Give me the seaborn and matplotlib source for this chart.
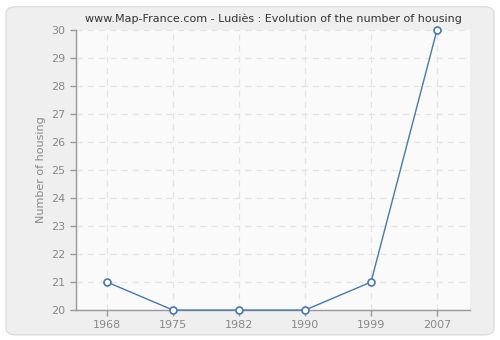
import matplotlib
matplotlib.use("Agg")
import matplotlib.pyplot as plt
import seaborn as sns
import pandas as pd
from matplotlib.patches import FancyBboxPatch, Rectangle

years = ["1968", "1975", "1982", "1990", "1999", "2007"]
housing = [21, 20, 20, 20, 21, 30]
yticks = list(range(20, 31))

df = pd.DataFrame({"year": years, "housing": housing})

sns.set_style("white")
plt.rcParams['font.family'] = ['DejaVu Sans']
plt.rcParams['hatch.color'] = '#e8e8e8'
plt.rcParams['hatch.linewidth'] = 0.5

fig = plt.figure(figsize=(5, 3.4), dpi=100)
fig.patch.set_facecolor('white')
bg = FancyBboxPatch((0.012, 0.015), 0.976, 0.965, boxstyle="round,pad=0,rounding_size=0.02",
                    transform=fig.transFigure, facecolor='#efefef', edgecolor='#dddddd',
                    linewidth=1, zorder=-10)
fig.patches.append(bg)

ax = fig.add_axes([0.152, 0.088, 0.788, 0.824])
ax.set_zorder(1)
ax.set_facecolor('#fafafa')
ax.add_patch(Rectangle((0, 0), 1, 1, transform=ax.transAxes, facecolor='#fafafa',
                       edgecolor='none', hatch='//////', zorder=0))

sns.lineplot(data=df, x="year", y="housing", ax=ax, color='#4a78a8', linewidth=1,
             marker='o', markersize=5, markerfacecolor='white', markeredgecolor='#4a78a8',
             markeredgewidth=1.2, zorder=5)
for ln in ax.lines:
    ln.set_clip_on(False)

ax.set_xlim(-0.47, 5.5)
ax.set_ylim(20, 30)
ax.set_yticks(yticks)
ax.grid(True, color='#e4e4e4', linestyle=(0, (5, 4)), linewidth=0.9)
ax.set_axisbelow(True)
for s in ['top', 'right']:
    ax.spines[s].set_visible(False)
for s in ['left', 'bottom']:
    ax.spines[s].set_color('#999999')
    ax.spines[s].set_linewidth(1)
ax.tick_params(axis='both', colors='#999999', labelcolor='#888888', labelsize=8,
               length=4, width=1, direction='out', left=True, bottom=True)
ax.set_xlabel("")
ax.set_ylabel("Number of housing", color='#888888', fontsize=8)
ax.set_title("www.Map-France.com - Ludiès : Evolution of the number of housing",
             fontsize=8, color='#333333', pad=6)

fig.savefig("out.png", dpi=100, facecolor=fig.get_facecolor())
